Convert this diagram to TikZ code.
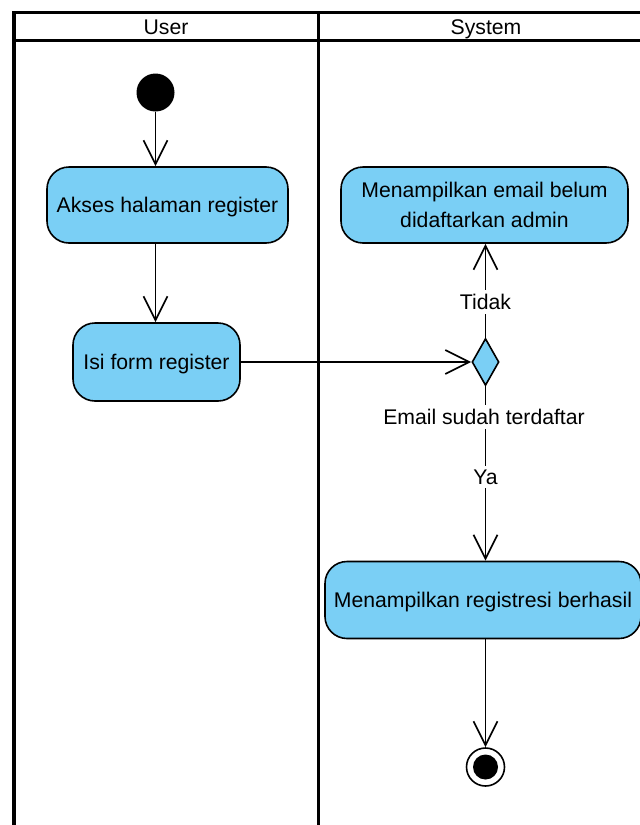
\documentclass[tikz,border=0pt]{standalone}
\usepackage{fontspec}
\setmainfont{Liberation Sans}
\usetikzlibrary{arrows.meta,shapes.geometric}
\definecolor{actfill}{RGB}{122,207,245}
\begin{document}
\begin{tikzpicture}[x=1pt,y=-1pt,
  font=\fontsize{21.2}{30}\selectfont,
  lane/.style={line width=3.5pt},
  act/.style={draw, line width=1.6pt, fill=actfill, rounded corners=22pt, inner sep=0pt, align=center, text depth=0pt},
  flow/.style={line width=1.7pt, -{Straight Barb[length=24pt,width=24pt,line width=1.7pt]}},
  lbl/.style={fill=white, inner sep=4pt}]
\clip (0,0) rectangle (640,825);
\fill[white] (0,0) rectangle (640,825);
% swimlanes
\draw[lane] (14,840) -- (14,12.5) -- (660,12.5);
\draw[lane] (14,40.5) -- (660,40.5);
\draw[lane] (318.5,12.5) -- (318.5,840);
\node[text depth=0pt] (userh) at (166,27.5) {User};
\node[text depth=0pt] (sysh) at (486,27.5) {System};
% nodes
\node[circle, fill=black, minimum size=38pt, inner sep=0pt] (start) at (155.5,92.5) {};
\node[act, minimum width=241pt, minimum height=76pt] (akses) at (167.5,205) {Akses halaman register};
\node[act, minimum width=167pt, minimum height=78pt] (isi) at (156.5,362) {Isi form register};
\node[act, minimum width=287pt, minimum height=76pt] (email) at (484.5,205) {Menampilkan email belum\\didaftarkan admin};
\node[diamond, draw, fill=actfill, line width=1.6pt, minimum width=27pt, minimum height=47pt, inner sep=0pt] (dec) at (485.5,362) {};
\node[act, minimum width=316pt, minimum height=77pt] (reg) at (483,600) {Menampilkan registresi berhasil};
\node[circle, draw, line width=1.6pt, fill=white, minimum size=38pt, inner sep=0pt] (end) at (485.5,767) {};
\node[circle, fill=black, minimum size=25pt, inner sep=0pt] (endin) at (end.center) {};
% connectors
\draw[flow] (start.south -| start) -- (start |- akses.north);
\draw[flow] (akses.south -| start) -- (isi.north -| start);
\draw[flow] (isi.east) -- (dec.west);
\draw[flow] (dec.north) -- (dec.north |- email.south) node[lbl, pos=0.38] (tidak) {Tidak};
\draw[flow] (dec.south) -- (dec.south |- reg.north) node[lbl, pos=0.52] (ya) {Ya};
\node[lbl] (declbl) at (484,417) {Email sudah terdaftar};
\draw[flow] (reg.south -| end) -- (end.north);
\end{tikzpicture}
\end{document}
